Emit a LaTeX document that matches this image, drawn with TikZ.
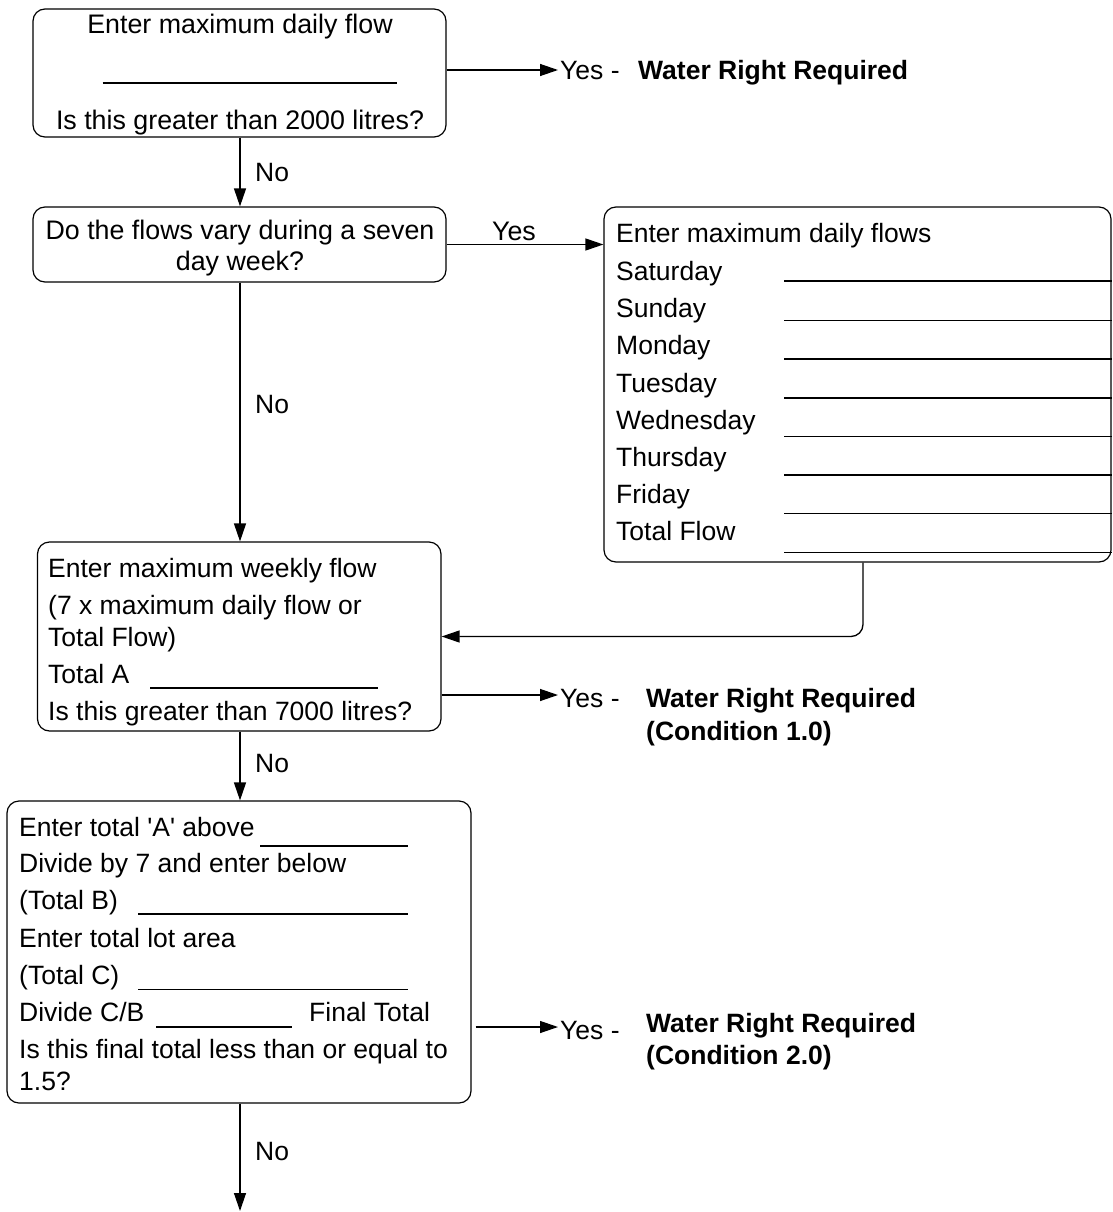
\documentclass[tikz,border=0pt]{standalone}
\usepackage{fontspec}
\setmainfont{Liberation Sans}[Ligatures=TeXOff]
\usetikzlibrary{arrows.meta}
\begin{document}
\begin{tikzpicture}[x=1pt,y=-1pt,
  box/.style={draw, rounded corners=12pt, line width=1.2pt, inner sep=0pt},
  txt/.style={anchor=base west, inner sep=0pt, font=\fontsize{26.5}{30}\selectfont},
  ctxt/.style={anchor=base, inner sep=0pt, font=\fontsize{26.8}{30}\selectfont},
  btxt/.style={anchor=base west, inner sep=0pt, font=\fontsize{26.5}{30}\selectfont\bfseries},
  arr/.style={line width=1.3pt, -{Triangle[length=18pt,width=12pt]}},
  uline/.style={line width=1.6pt}]
\useasboundingbox (0,0) rectangle (1112,1212);
% boxes
\node[box, minimum width=413pt, minimum height=128pt] (b1) at (239.5,73) {};
\node[box, minimum width=413pt, minimum height=75pt] (b2) at (239.5,244.5) {};
\node[box, minimum width=507pt, minimum height=355pt] (b3) at (857.5,384.5) {};
\node[box, minimum width=403.5pt, minimum height=189pt] (b4) at (239.25,636.5) {};
\node[box, minimum width=464pt, minimum height=302pt] (b5) at (239,952) {};
% box 1 text
\node[ctxt] (b1l1) at (240,34) {Enter maximum daily flow};
\draw[uline] (102.5,83) -- (397,83);
\node[ctxt] (b1l2) at (240,130) {Is this greater than 2000 litres?};
% box 2 text
\node[ctxt] (b2l1) at (240,239) {Do the flows vary during a seven};
\node[ctxt] (b2l2) at (240,270) {day week?};
% box 3 text
\node[txt] (b3l0) at (616,242) {Enter maximum daily flows};
\node[txt] (b3l1) at (616,280) {Saturday};
\node[txt] (b3l2) at (616,317) {Sunday};
\node[txt] (b3l3) at (616,354) {Monday};
\node[txt] (b3l4) at (616,392) {Tuesday};
\node[txt] (b3l5) at (616,429) {Wednesday};
\node[txt] (b3l6) at (616,466) {Thursday};
\node[txt] (b3l7) at (616,503) {Friday};
\node[txt] (b3l8) at (616,540) {Total Flow};
\foreach \yy in {281,320.5,359,398,436.5,475,513.5,552.5}
  \draw[uline] (784,\yy) -- (1112,\yy);
% box 4 text
\node[txt] (b4l1) at (48,577) {Enter maximum weekly flow};
\node[txt] (b4l2) at (48,614) {(7 x maximum daily flow or};
\node[txt] (b4l3) at (48,646) {Total Flow)};
\node[txt] (b4l4) at (48,683) {Total A};
\draw[uline] (150,688) -- (378,688);
\node[txt] (b4l5) at (48,720) {Is this greater than 7000 litres?};
% box 5 text
\node[txt] (b5l1) at (19,836) {Enter total 'A' above};
\draw[uline] (260,846) -- (408,846);
\node[txt] (b5l2) at (19,872) {Divide by 7 and enter below};
\node[txt] (b5l3) at (19,909) {(Total B)};
\draw[uline] (138,914) -- (408,914);
\node[txt] (b5l4) at (19,947) {Enter total lot area};
\node[txt] (b5l5) at (19,984) {(Total C)};
\draw[uline] (138,989.5) -- (408,989.5);
\node[txt] (b5l6) at (19,1021) {Divide C/B};
\draw[uline] (156,1027) -- (292,1027);
\node[txt] (b5l6b) at (309,1021) {Final Total};
\node[txt] (b5l7) at (19,1058) {Is this final total less than or equal to};
\node[txt] (b5l8) at (19,1090) {1.5?};
% outcomes
\node[txt] (y1) at (560,80) {Yes -};
\node[btxt] (w1) at (638,80) {Water Right Required};
\node[txt] (y4) at (560,707) {Yes -};
\node[btxt] (w4a) at (646,707) {Water Right Required};
\node[btxt] (w4b) at (646,740) {(Condition 1.0)};
\node[txt] (y5) at (560,1039) {Yes -};
\node[btxt] (w5a) at (646,1032) {Water Right Required};
\node[btxt] (w5b) at (646,1064) {(Condition 2.0)};
% labels
\node[txt] (n1) at (255,181) {No};
\node[txt] (n2) at (255,413) {No};
\node[txt] (n3) at (255,772) {No};
\node[txt] (n4) at (255,1160) {No};
\node[ctxt] (yb2) at (514,240) {Yes};
% connectors
\coordinate (t1) at (558,70);
\coordinate (t4) at (558,695);
\coordinate (t5) at (558,1027);
\coordinate (tend) at (240,1211);
\draw[arr] (b1.east |- t1) -- (t1);
\draw[arr] (b4.east |- t4) -- (t4);
\draw[arr] ([xshift=4pt]b5.east |- t5) -- (t5);
\draw[arr] (b1.south -| 240,0) -- (b2.north -| 240,0);
\draw[arr] (b2.south -| 240,0) -- (b4.north -| 240,0);
\draw[arr] (b4.south -| 240,0) -- (b5.north -| 240,0);
\draw[arr] (b5.south -| 240,0) -- (tend);
\draw[arr] (b2.east) -- (b2.east -| b3.west);
\draw[arr, rounded corners=12pt] ([xshift=5.5pt]b3.south) |- (b4.east);
\end{tikzpicture}
\end{document}
